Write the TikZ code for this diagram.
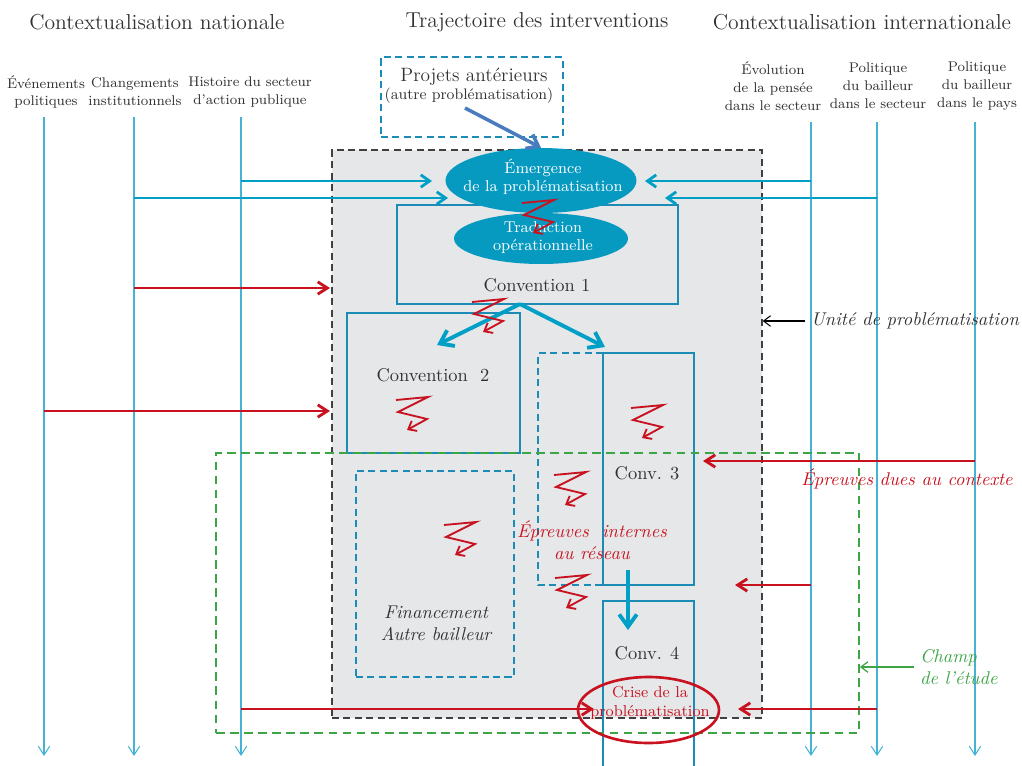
\documentclass[tikz,border=0pt]{standalone}
\usepackage{tikz}
\usetikzlibrary{positioning}
\usetikzlibrary{arrows.meta}
\usetikzlibrary{shapes.geometric}
\definecolor{linecyan}{RGB}{70,178,212}
\definecolor{flowcyan}{RGB}{0,160,198}
\definecolor{ellcyan}{RGB}{6,154,193}
\definecolor{boxcyan}{RGB}{28,140,182}
\definecolor{steelarrow}{RGB}{72,124,190}
\definecolor{darkred}{RGB}{200,18,32}
\definecolor{darkgreen}{RGB}{60,165,70}
\definecolor{bggray}{RGB}{230,231,233}
\definecolor{textgray}{RGB}{50,50,50}
\tikzset{ressort/.pic={\draw[darkred,line width=1.05pt,-{Straight Barb[length=4pt,width=6.5pt]}] (-16,-13) -- (16,-16) -- (-14,-1) -- (15,6) -- (-5,17);}}

\begin{document}
\begin{tikzpicture}[x=0.02cm,y=-0.02cm,
  titre/.style={font=\fontsize{12.3}{14}\selectfont,text=textgray},
  source/.style={font=\fontsize{8}{10.2}\selectfont,align=center,text=textgray},
  convtxt/.style={font=\fontsize{10.5}{12}\selectfont,text=textgray},
  remarque/.style={font=\fontsize{10.5}{12.5}\selectfont\itshape,align=center},
  conv/.style={draw=boxcyan,line width=0.7pt},
  dashbox/.style={draw=boxcyan,line width=0.8pt,dash pattern=on 4pt off 2.5pt},
  bulle/.style={ellipse,fill=ellcyan,inner sep=0pt},
  bulletxt/.style={text=white,align=center,font=\fontsize{9}{10.6}\selectfont},
  temps/.style={color=linecyan,line width=0.6pt,-{Straight Barb[length=5pt,width=6.5pt]}},
  flux/.style={color=flowcyan,line width=1.6pt,-{Straight Barb[length=5pt,width=7pt]}},
  gros/.style={color=flowcyan,line width=2.2pt,-{Straight Barb[length=7pt,width=10pt]}},
  choc/.style={color=darkred,line width=1.6pt,-{Straight Barb[length=5.5pt,width=7pt]}}]
            \useasboundingbox (0,0) rectangle (1022,765);
            %
            \node[titre] (tnat) at (157,22) {Contextualisation nationale};
            \node[titre] (ttraj) at (537,22) {Trajectoire des interventions};
            \node[titre] (tint) at (862,22) {Contextualisation internationale};
            %
            \node[source] (evtlbl) at (46,92) {Événements\\politiques};
            \node[source] (chglbl) at (135,92) {Changements\\institutionnels};
            \node[source] (histlbl) at (250,92) {Histoire du secteur\\d'action publique};
            \node[source] (evolbl) at (773,86) {Évolution\\de la pensée\\dans le secteur};
            \node[source] (polseclbl) at (878,86) {Politique\\du bailleur\\dans le secteur};
            \node[source] (polpayslbl) at (977,86) {Politique\\du bailleur\\dans le pays};
            %
            \coordinate (evt) at (44,117);
            \coordinate (chg) at (134,117);
            \coordinate (hist) at (241,117);
            \coordinate (evo) at (811,122);
            \coordinate (polsec) at (877,122);
            \coordinate (polpays) at (975,122);
            \coordinate (fin) at (0,756);
            %
            \node (unite) at (547,434) [fill=bggray,draw=black!75,line width=0.8pt,dash pattern=on 4pt off 2.5pt,minimum width=8.6cm,minimum height=11.36cm] {};
            \node (projets) at (472,97) [dashbox,minimum width=3.64cm,minimum height=1.6cm] {};
            \node (projtxt) at (474,77) [font=\fontsize{11}{13}\selectfont,text=textgray] {Projets antérieurs};
            \node (projsub) at (469,96) [font=\fontsize{8.7}{10}\selectfont,text=textgray] {(autre problématisation)};
            %
            \foreach \l in {evt,chg,hist,evo,polsec,polpays}
                \draw [temps] (\l) -- (\l |- fin);
            %
            \node (conv1) at (537.5,254.5) [conv,minimum width=5.62cm,minimum height=1.98cm] {};
            \node (conv1txt) at (537,285) [convtxt] {Convention 1};
            \node (emerg) at (541,180.5) [bulle,minimum width=3.82cm,minimum height=1.3cm] {};
            \node (emergtxt) at (543,177) [bulletxt] {Émergence\\de la problématisation};
            \node (trad) at (541,238.5) [bulle,minimum width=3.48cm,minimum height=1.02cm] {};
            \node (tradtxt) at (543,237.5) [bulletxt] {Traduction\\opérationnelle};
            \node (conv2) at (433.5,383) [conv,minimum width=3.46cm,minimum height=2.8cm] {};
            \node (conv2txt) at (433,375) [convtxt] {Convention\ \ 2};
            \node (reseau) at (570.5,469) [dashbox,minimum width=1.3cm,minimum height=4.64cm] {};
            \node (conv3) at (648.5,469) [conv,minimum width=1.82cm,minimum height=4.64cm] {};
            \node (conv3txt) at (647,473) [convtxt] {Conv. 3};
            \node (conv4) at (648.5,700.5) [conv,minimum width=1.82cm,minimum height=3.98cm] {};
            \node (conv4txt) at (647,653) [convtxt] {Conv. 4};
            \node (autre) at (435,574) [dashbox,minimum width=3.16cm,minimum height=4.12cm] {};
            \node (autretxt) at (436,623) [remarque,text=textgray] {Financement\\Autre bailleur};
            \node (champ) at (537.5,593) [draw=darkgreen,line width=1.1pt,dash pattern=on 5pt off 3pt,minimum width=12.86cm,minimum height=5.6cm] {};
            \node (crise) at (648.5,710) [ellipse,draw=darkred,line width=1.5pt,minimum width=2.82cm,minimum height=1.32cm,inner sep=0pt] {};
            \node (crisetxt) at (650,703) [text=darkred,align=center,font=\fontsize{9}{10.8}\selectfont] {Crise de la\\problématisation};
            %
            \coordinate (prjout) at (465,108);
            \draw [color=steelarrow,line width=2pt,-{Straight Barb[length=6pt,width=9pt]}] (prjout) -- (emerg.north);
            % contexte -> emergence
            \coordinate (e1) at (432,181);
            \coordinate (e2) at (448,198);
            \coordinate (e3) at (645,181);
            \coordinate (e4) at (665,198);
            \draw [flux] (hist |- e1) -- (e1);
            \draw [flux] (chg |- e2) -- (e2);
            \draw [flux] (evo |- e3) -- (e3);
            \draw [flux] (polsec |- e4) -- (e4);
            % epreuves dues au contexte
            \coordinate (r1) at (330,288);
            \coordinate (r2) at (330,411);
            \coordinate (r3) at (703,461);
            \coordinate (r4) at (735,585);
            \coordinate (r5) at (738,709);
            \coordinate (r6) at (594,709);
            \draw [choc] (chg |- r1) -- (r1);
            \draw [choc] (evt |- r2) -- (r2);
            \draw [choc] (polpays |- r3) -- (r3);
            \draw [choc] (evo |- r4) -- (r4);
            \draw [choc] (polsec |- r5) -- (r5);
            \draw [choc] (hist |- r6) -- (r6);
            % suite des conventions
            \coordinate (split) at (520,304);
            \coordinate (c2in) at (437,345);
            \coordinate (c3in) at (605,347);
            \coordinate (c3out) at (628,570);
            \coordinate (c4in) at (628,630);
            \draw [gros] (split) -- (c2in);
            \draw [gros] (split) -- (c3in);
            \draw [gros] (c3out) -- (c4in);
            % epreuves internes
            \foreach \p in {(538,216),(488,315),(412,413),(647,421),(570,488),(460,538),(571,591)}
                \pic at \p {ressort};
            \node (internes) at (592,540) [remarque,text=darkred] {Épreuves\ \ internes\\au réseau};
            \node (contexte) at (907,479) [remarque,text=darkred] {Épreuves dues au contexte};
            %
            \node (unitetxt) at (805,321) [anchor=west,remarque,text=textgray] {Unité de problématisation};
            \draw [black,line width=0.6pt,-{Straight Barb[length=4pt,width=6pt]}] (unitetxt.west) -- (unite.east |- unitetxt.west);
            \node (champtxt) at (914,667) [anchor=west,remarque,align=left,text=darkgreen] {Champ\\de l'étude};
            \draw [darkgreen,line width=0.7pt,-{Straight Barb[length=4pt,width=6pt]}] (champtxt.west) -- (champ.east |- champtxt.west);
            %
        \end{tikzpicture}
\end{document}
